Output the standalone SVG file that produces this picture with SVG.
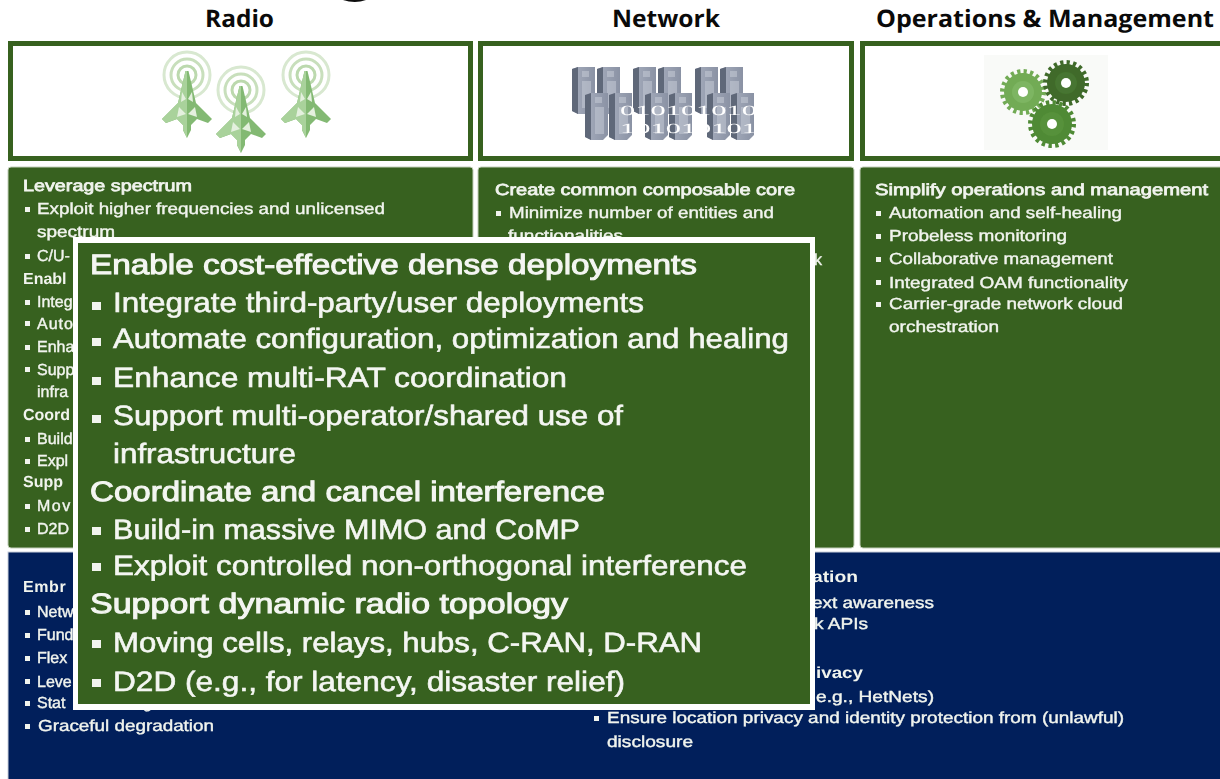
<svg xmlns="http://www.w3.org/2000/svg" xmlns:xlink="http://www.w3.org/1999/xlink" width="1220" height="779" viewBox="0 0 1220 779">
<style>
text{font-family:"Liberation Sans",Arial,sans-serif;text-rendering:geometricPrecision}
.h{font-family:"Open Sans","Noto Sans",sans-serif;font-weight:700;font-size:24px;fill:#0a0a0a}
.s{font-size:16px;fill:#f1f4ee;stroke:#f1f4ee;stroke-width:.4}
.b{font-size:16px;fill:#f1f4ee;stroke:#f1f4ee;stroke-width:.75}
.bf{font-size:16px;font-weight:700;fill:#f1f4ee}
.p{font-size:28px;fill:#f4f6f2;stroke:#f4f6f2;stroke-width:.6}
.pb{font-size:28px;fill:#f4f6f2;stroke:#f4f6f2;stroke-width:1}
.g{fill:#37611f;stroke:#c3cfba;stroke-width:1}
.n{fill:#011f5b;stroke:#c9d0dc;stroke-width:1}
.f{fill:#fff;stroke:#37611f;stroke-width:5}
.sq{fill:#f1f4ee}
</style>
<defs>
<filter id="soft" x="-5%" y="-5%" width="110%" height="110%"><feGaussianBlur stdDeviation=".5"/></filter>
<filter id="softer" x="-10%" y="-10%" width="120%" height="120%"><feGaussianBlur stdDeviation=".6"/></filter>
<linearGradient id="cab" x1="0" x2="1" y1="0" y2="0"><stop offset="0" stop-color="#a6adbd"/><stop offset="1" stop-color="#8a92a4"/></linearGradient>
<symbol id="tower" overflow="visible" viewBox="-30 -30 60 100" width="60" height="100">
<g fill="none"><circle r="23" stroke="#d8e8d0" stroke-width="3"/><circle r="16" stroke="#c8dfbc" stroke-width="3"/><circle r="9" stroke="#bcd9ae" stroke-width="3"/></g>
<path d="M-1.500 -4H1.500L9 28L25 44L21 48L10 44L4 50V55L0 63L-4 55V50L-10 44L-21 48L-25 44L-9 28Z" fill="#83b973"/>
<path d="M-1.500 -4H0V63L-4 55V50L-10 44L-21 48L-25 44L-9 28Z" fill="#a9d29b"/>
<path d="M-5 17L-1 24L-6 27ZM5 17L1 24L6 27ZM-8 32L-1 39L-10 42ZM8 32L1 39L10 42Z" fill="#e4f0de"/>
</symbol>
<symbol id="rack" overflow="visible" viewBox="0 0 25 48" width="25" height="48">
<path d="M0 2L6 0H23V42L18 47H6L0 44Z" fill="url(#cab)"/>
<path d="M0 2L6 0V47L0 44Z" fill="#5f6779"/>
<path d="M10 4H17V10H10ZM10 14H19V41H10Z" fill="#c4cad6" opacity=".55"/>
</symbol>
</defs>
<rect width="1220" height="779" fill="#fff"/>
<path d="M343 0H366Q355 4 343 0Z" fill="#111" filter="url(#soft)"/>

<g id="headers">
<text class="h" x="205" y="27" textLength="69" lengthAdjust="spacingAndGlyphs">Radio</text>
<text class="h" x="612" y="27" textLength="108" lengthAdjust="spacingAndGlyphs">Network</text>
<text class="h" x="876" y="27" textLength="338" lengthAdjust="spacingAndGlyphs">Operations &amp; Management</text>
</g>

<g id="radio-icon">
<rect class="f" x="10.500" y="43.500" width="460" height="115"/>
<g filter="url(#softer)">
<use xlink:href="#tower" href="#tower" x="157" y="45"/>
<use xlink:href="#tower" href="#tower" x="211" y="60"/>
<use xlink:href="#tower" href="#tower" x="276" y="45"/>
</g>
</g>

<g id="network-icon">
<rect class="f" x="480.500" y="43.500" width="371" height="115"/>
<g filter="url(#softer)">
<use xlink:href="#rack" href="#rack" x="572" y="67"/><use xlink:href="#rack" href="#rack" x="597" y="67"/>
<use xlink:href="#rack" href="#rack" x="633" y="67"/><use xlink:href="#rack" href="#rack" x="658" y="67"/>
<use xlink:href="#rack" href="#rack" x="695" y="67"/><use xlink:href="#rack" href="#rack" x="720" y="67"/>
<use xlink:href="#rack" href="#rack" x="585" y="93"/><use xlink:href="#rack" href="#rack" x="609" y="93"/>
<use xlink:href="#rack" href="#rack" x="645" y="93"/><use xlink:href="#rack" href="#rack" x="669" y="93"/>
<use xlink:href="#rack" href="#rack" x="707" y="93"/><use xlink:href="#rack" href="#rack" x="731" y="93"/>
</g>
<g fill="#fff" filter="url(#soft)">
<text x="620" y="115" style="font-family:'Liberation Serif',serif;font-size:14px" textLength="137" lengthAdjust="spacingAndGlyphs">010101010</text>
<text x="620" y="133" style="font-family:'Liberation Serif',serif;font-size:14px" textLength="137" lengthAdjust="spacingAndGlyphs">101010101</text>
</g>
</g>

<g id="ops-icon">
<rect class="f" x="862.500" y="43.500" width="370" height="115"/>
<rect x="984" y="55" width="124" height="95" fill="#f9faf8"/>
<g filter="url(#soft)">
<g transform="translate(1023 92)"><circle r="19" fill="#72ab55"/><circle r="20.500" fill="none" stroke="#72ab55" stroke-width="5" stroke-dasharray="3.200 3.240"/><circle r="11" fill="#7db562"/><circle r="5" fill="#fff"/></g>
<g transform="translate(1066 83)"><circle r="19" fill="#3f6b2a"/><circle r="20.500" fill="none" stroke="#3f6b2a" stroke-width="5" stroke-dasharray="3.200 3.240"/><circle r="11" fill="#467530"/><circle r="5" fill="#fff"/></g>
<g transform="translate(1052 124)"><circle r="20" fill="#4f8a35"/><circle r="21.500" fill="none" stroke="#4f8a35" stroke-width="5" stroke-dasharray="3.360 3.390"/><circle r="12" fill="#56913a"/><circle r="5" fill="#fff"/></g>
</g>
</g>

<g id="radio-panel">
<rect class="g" x="8" y="167" width="465" height="381" rx="3"/>
<g filter="url(#soft)">
<text class="b" x="23" y="191" textLength="169" lengthAdjust="spacingAndGlyphs">Leverage spectrum</text>
<rect class="sq" x="25" y="207" width="5" height="5"/>
<text class="s" x="37" y="214" textLength="348" lengthAdjust="spacingAndGlyphs">Exploit higher frequencies and unlicensed</text>
<text class="s" x="37" y="237" textLength="78" lengthAdjust="spacingAndGlyphs">spectrum</text>
<rect class="sq" x="25" y="254" width="5" height="5"/><text class="s" x="37" y="261">C/U-</text>
<text class="bf" x="23" y="284">Enabl</text>
<rect class="sq" x="25" y="300" width="5" height="5"/><text class="s" x="37" y="307">Integ</text>
<rect class="sq" x="25" y="321" width="5" height="5"/><text class="s" x="37" y="329" letter-spacing="1">Auto</text>
<rect class="sq" x="25" y="345" width="5" height="5"/><text class="s" x="37" y="352">Enha</text>
<rect class="sq" x="25" y="367" width="5" height="5"/><text class="s" x="37" y="375">Supp</text>
<text class="s" x="37" y="397">infra</text>
<text class="bf" x="23" y="420">Coord</text>
<rect class="sq" x="25" y="437" width="5" height="5"/><text class="s" x="37" y="444">Build</text>
<rect class="sq" x="25" y="459" width="5" height="5"/><text class="s" x="37" y="466">Expl</text>
<text class="bf" x="23" y="487">Supp</text>
<rect class="sq" x="25" y="504" width="5" height="5"/><text class="s" x="37" y="511" letter-spacing="1.500">Mov</text>
<rect class="sq" x="25" y="527" width="5" height="5"/><text class="s" x="37" y="534">D2D</text>
</g>
</g>

<g id="network-panel">
<rect class="g" x="478" y="167" width="376" height="381" rx="3"/>
<g filter="url(#soft)">
<text class="b" x="495" y="195" textLength="300" lengthAdjust="spacingAndGlyphs">Create common composable core</text>
<rect class="sq" x="496" y="211" width="5" height="5"/>
<text class="s" x="509" y="218" textLength="265" lengthAdjust="spacingAndGlyphs">Minimize number of entities and</text>
<text class="s" x="508" y="241" textLength="115" lengthAdjust="spacingAndGlyphs">functionalities</text>
<text class="s" x="814" y="265">k</text>
</g>
</g>

<g id="ops-panel">
<rect class="g" x="860" y="167" width="372" height="381" rx="3"/>
<g filter="url(#soft)">
<text class="b" x="875" y="195" textLength="333" lengthAdjust="spacingAndGlyphs">Simplify operations and management</text>
<rect class="sq" x="876" y="211" width="5" height="5"/><text class="s" x="889" y="218" textLength="233" lengthAdjust="spacingAndGlyphs">Automation and self-healing</text>
<rect class="sq" x="876" y="234" width="5" height="5"/><text class="s" x="889" y="241" textLength="178" lengthAdjust="spacingAndGlyphs">Probeless monitoring</text>
<rect class="sq" x="876" y="257" width="5" height="5"/><text class="s" x="889" y="264" textLength="224" lengthAdjust="spacingAndGlyphs">Collaborative management</text>
<rect class="sq" x="876" y="280" width="5" height="5"/><text class="s" x="889" y="288" textLength="239" lengthAdjust="spacingAndGlyphs">Integrated OAM functionality</text>
<rect class="sq" x="876" y="302" width="5" height="5"/><text class="s" x="889" y="309" textLength="234" lengthAdjust="spacingAndGlyphs">Carrier-grade network cloud</text>
<text class="s" x="889" y="332" textLength="110" lengthAdjust="spacingAndGlyphs">orchestration</text>
</g>
</g>

<g id="bottom-panel">
<rect class="n" x="8" y="552" width="1224" height="240"/>
<g filter="url(#soft)">
<text class="bf" x="23" y="592" letter-spacing=".6">Embr</text>
<rect class="sq" x="25" y="610" width="5" height="5"/><text class="s" x="37" y="617">Netw</text>
<rect class="sq" x="25" y="633" width="5" height="5"/><text class="s" x="37" y="640">Fund</text>
<rect class="sq" x="25" y="656" width="5" height="5"/><text class="s" x="37" y="663">Flex</text>
<rect class="sq" x="25" y="679" width="5" height="5"/><text class="s" x="37" y="687">Leve</text>
<rect class="sq" x="25" y="701" width="5" height="5"/><text class="s" x="37" y="708">Stat</text>
<text class="s" x="143" y="708">g</text>
<rect class="sq" x="25" y="724" width="5" height="5"/><text class="s" x="38" y="731" textLength="176" lengthAdjust="spacingAndGlyphs">Graceful degradation</text>
<text class="bf" x="812" y="582" textLength="46" lengthAdjust="spacingAndGlyphs">ation</text>
<text class="s" x="812" y="608" textLength="122" lengthAdjust="spacingAndGlyphs">ext awareness</text>
<text class="s" x="814" y="629" textLength="54" lengthAdjust="spacingAndGlyphs">k APIs</text>
<text class="bf" x="816" y="678" textLength="47" lengthAdjust="spacingAndGlyphs">ivacy</text>
<text class="s" x="816" y="702" textLength="118" lengthAdjust="spacingAndGlyphs">e.g., HetNets)</text>
<rect class="sq" x="594" y="716" width="5" height="5"/><text class="s" x="607" y="723" textLength="517" lengthAdjust="spacingAndGlyphs">Ensure location privacy and identity protection from (unlawful)</text>
<text class="s" x="607" y="747" textLength="86" lengthAdjust="spacingAndGlyphs">disclosure</text>
</g>
</g>

<g id="popup">
<rect x="73" y="237" width="742" height="473" fill="#fff"/>
<rect x="78" y="243" width="732" height="461" fill="#37611f"/>
<g filter="url(#soft)">
<text class="pb" x="90" y="274" textLength="607" lengthAdjust="spacingAndGlyphs">Enable cost-effective  dense deployments</text>
<rect class="sq" x="92" y="302" width="9" height="8"/><text class="p" x="113" y="312" textLength="531" lengthAdjust="spacingAndGlyphs">Integrate third-party/user deployments</text>
<rect class="sq" x="92" y="338" width="9" height="8"/><text class="p" x="113" y="348" textLength="676" lengthAdjust="spacingAndGlyphs">Automate configuration, optimization and healing</text>
<rect class="sq" x="92" y="377" width="9" height="8"/><text class="p" x="113" y="387" textLength="454" lengthAdjust="spacingAndGlyphs">Enhance multi-RAT coordination</text>
<rect class="sq" x="92" y="415" width="9" height="8"/><text class="p" x="113" y="425" textLength="510" lengthAdjust="spacingAndGlyphs">Support multi-operator/shared use of</text>
<text class="p" x="113" y="463" textLength="183" lengthAdjust="spacingAndGlyphs">infrastructure</text>
<text class="pb" x="90" y="501" textLength="515" lengthAdjust="spacingAndGlyphs">Coordinate and cancel interference</text>
<rect class="sq" x="92" y="527" width="9" height="8"/><text class="p" x="113" y="539" textLength="467" lengthAdjust="spacingAndGlyphs">Build-in massive MIMO and CoMP</text>
<rect class="sq" x="92" y="563" width="9" height="8"/><text class="p" x="113" y="575" textLength="634" lengthAdjust="spacingAndGlyphs">Exploit controlled non-orthogonal interference</text>
<text class="pb" x="90" y="613" textLength="478" lengthAdjust="spacingAndGlyphs">Support dynamic radio topology</text>
<rect class="sq" x="92" y="640" width="9" height="8"/><text class="p" x="113" y="652" textLength="589" lengthAdjust="spacingAndGlyphs">Moving cells, relays, hubs, C-RAN, D-RAN</text>
<rect class="sq" x="92" y="679" width="9" height="8"/><text class="p" x="113" y="691" textLength="512" lengthAdjust="spacingAndGlyphs">D2D (e.g., for latency, disaster relief)</text>
</g>
</g>
</svg>
